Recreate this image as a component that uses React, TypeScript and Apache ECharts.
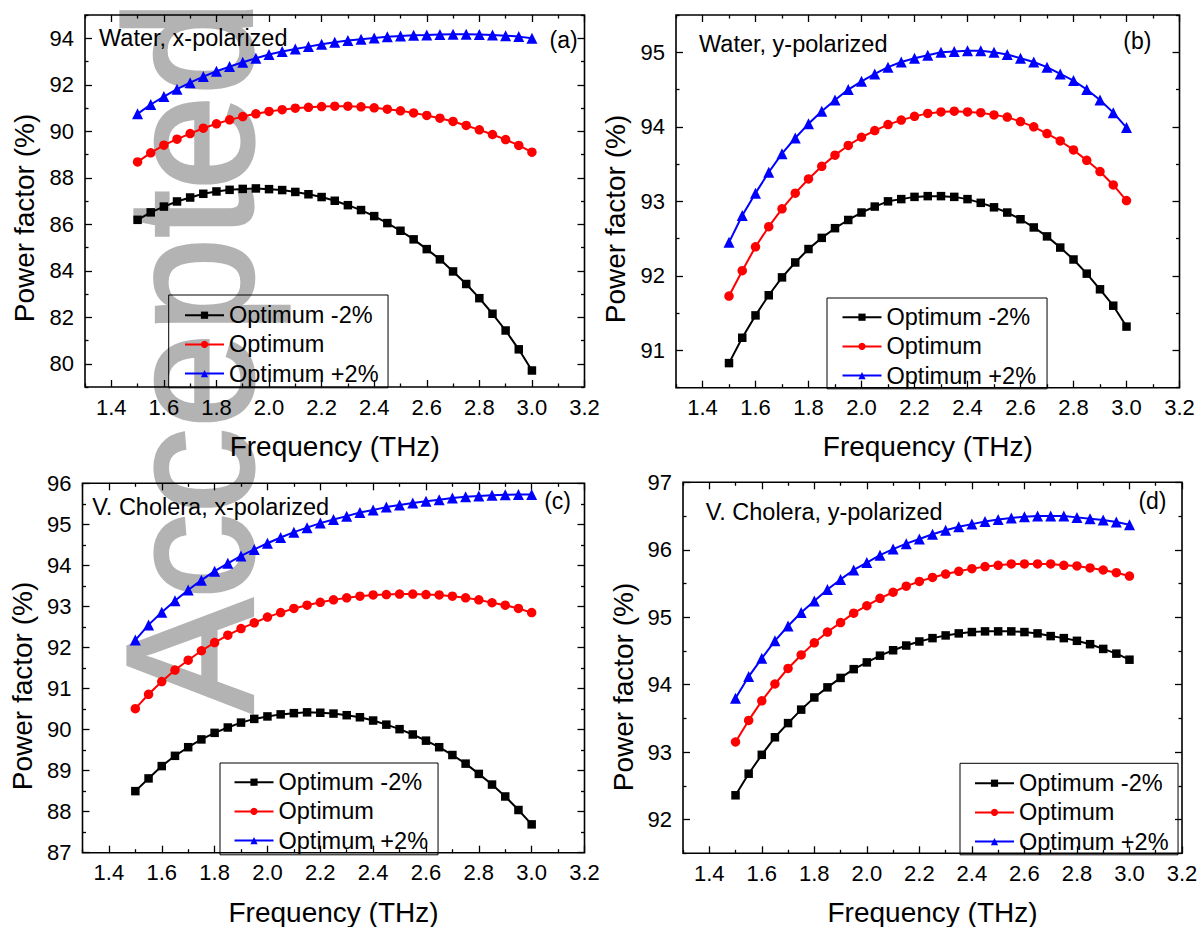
import React, { useEffect, useRef } from 'react';
import * as echarts from 'echarts';

const FONT = '"Liberation Sans", Arial, Helvetica, sans-serif';

// Frequency (THz)
const freq = [1.5, 1.55, 1.6, 1.65, 1.7, 1.75, 1.8, 1.85, 1.9, 1.95, 2.0, 2.05, 2.1, 2.15, 2.2, 2.25, 2.3, 2.35, 2.4, 2.45, 2.5, 2.55, 2.6, 2.65, 2.7, 2.75, 2.8, 2.85, 2.9, 2.95, 3.0];

const seriesNames = ['Optimum -2%', 'Optimum', 'Optimum +2%'];

// (a) Water, x-polarized
const waterXMinus = [86.19, 86.51, 86.76, 86.98, 87.15, 87.31, 87.41, 87.48, 87.52, 87.54, 87.51, 87.47, 87.39, 87.29, 87.17, 87.01, 86.82, 86.61, 86.35, 86.05, 85.72, 85.35, 84.93, 84.49, 83.97, 83.43, 82.82, 82.15, 81.43, 80.62, 79.71];
const waterXOpt = [88.68, 89.07, 89.40, 89.66, 89.90, 90.13, 90.32, 90.49, 90.63, 90.75, 90.85, 90.93, 90.99, 91.03, 91.06, 91.08, 91.08, 91.05, 91.01, 90.95, 90.88, 90.79, 90.68, 90.56, 90.42, 90.25, 90.06, 89.86, 89.64, 89.39, 89.10];
const waterXPlus = [90.75, 91.15, 91.49, 91.81, 92.09, 92.35, 92.58, 92.78, 92.97, 93.14, 93.30, 93.43, 93.54, 93.64, 93.74, 93.83, 93.90, 93.96, 94.01, 94.06, 94.10, 94.13, 94.14, 94.16, 94.17, 94.17, 94.16, 94.14, 94.11, 94.07, 94.00];

// (b) Water, y-polarized
const waterYMinus = [90.83, 91.17, 91.47, 91.74, 91.98, 92.18, 92.36, 92.51, 92.64, 92.75, 92.85, 92.93, 93.00, 93.03, 93.06, 93.07, 93.07, 93.06, 93.03, 92.98, 92.92, 92.85, 92.76, 92.65, 92.53, 92.38, 92.22, 92.03, 91.82, 91.60, 91.32];
const waterYOpt = [91.73, 92.07, 92.39, 92.66, 92.90, 93.11, 93.30, 93.47, 93.62, 93.75, 93.86, 93.95, 94.03, 94.09, 94.14, 94.18, 94.20, 94.21, 94.20, 94.19, 94.16, 94.13, 94.07, 94.00, 93.91, 93.81, 93.69, 93.55, 93.40, 93.22, 93.01];
const waterYPlus = [92.45, 92.81, 93.11, 93.39, 93.64, 93.85, 94.04, 94.21, 94.36, 94.50, 94.61, 94.71, 94.80, 94.87, 94.92, 94.96, 95.00, 95.01, 95.02, 95.02, 95.00, 94.97, 94.92, 94.87, 94.80, 94.71, 94.62, 94.50, 94.36, 94.19, 93.99];

// (c) V. Cholera, x-polarized
const cholXMinus = [88.50, 88.81, 89.11, 89.36, 89.57, 89.76, 89.92, 90.05, 90.17, 90.26, 90.32, 90.37, 90.40, 90.42, 90.41, 90.39, 90.35, 90.30, 90.22, 90.12, 90.01, 89.88, 89.73, 89.57, 89.38, 89.17, 88.92, 88.66, 88.37, 88.04, 87.69];
const cholXOpt = [90.51, 90.86, 91.17, 91.45, 91.69, 91.92, 92.12, 92.30, 92.46, 92.60, 92.74, 92.85, 92.95, 93.03, 93.10, 93.16, 93.21, 93.25, 93.28, 93.29, 93.30, 93.30, 93.29, 93.28, 93.25, 93.21, 93.16, 93.09, 93.03, 92.95, 92.85];
const cholXPlus = [92.18, 92.55, 92.86, 93.14, 93.40, 93.64, 93.86, 94.05, 94.23, 94.39, 94.54, 94.68, 94.81, 94.92, 95.03, 95.12, 95.20, 95.29, 95.35, 95.42, 95.47, 95.52, 95.56, 95.60, 95.64, 95.67, 95.69, 95.71, 95.72, 95.73, 95.73];

// (d) V. Cholera, y-polarized
const cholYMinus = [92.36, 92.68, 92.96, 93.22, 93.43, 93.63, 93.81, 93.96, 94.10, 94.23, 94.33, 94.43, 94.51, 94.58, 94.64, 94.69, 94.73, 94.76, 94.78, 94.79, 94.79, 94.79, 94.78, 94.76, 94.72, 94.69, 94.65, 94.60, 94.53, 94.46, 94.37];
const cholYOpt = [93.15, 93.47, 93.76, 94.01, 94.24, 94.44, 94.62, 94.78, 94.92, 95.06, 95.17, 95.28, 95.37, 95.46, 95.53, 95.59, 95.64, 95.68, 95.72, 95.75, 95.77, 95.79, 95.79, 95.79, 95.79, 95.77, 95.76, 95.73, 95.70, 95.66, 95.61];
const cholYPlus = [93.80, 94.12, 94.39, 94.65, 94.87, 95.07, 95.24, 95.41, 95.56, 95.70, 95.81, 95.92, 96.01, 96.09, 96.16, 96.23, 96.29, 96.34, 96.38, 96.42, 96.45, 96.47, 96.49, 96.50, 96.50, 96.50, 96.48, 96.46, 96.44, 96.41, 96.37];

// Tick values
const xMajor = [1.4, 1.6, 1.8, 2.0, 2.2, 2.4, 2.6, 2.8, 3.0, 3.2];
const xMinor = [1.3, 1.5, 1.7, 1.9, 2.1, 2.3, 2.5, 2.7, 2.9, 3.1];
const yMajorA = [80, 82, 84, 86, 88, 90, 92, 94];
const yMinorA = [79, 81, 83, 85, 87, 89, 91, 93, 95];
const yMajorB = [91, 92, 93, 94, 95];
const yMinorB = [90.5, 91.5, 92.5, 93.5, 94.5, 95.5];
const yMajorC = [87, 88, 89, 90, 91, 92, 93, 94, 95, 96];
const yMinorC = [87.5, 88.5, 89.5, 90.5, 91.5, 92.5, 93.5, 94.5, 95.5];
const yMajorD = [92, 93, 94, 95, 96, 97];
const yMinorD = [91.5, 92.5, 93.5, 94.5, 95.5, 96.5];

const panelTitles = ['Water, x-polarized', 'Water, y-polarized', 'V. Cholera, x-polarized', 'V. Cholera, y-polarized'];
const panelTags = ['(a)', '(b)', '(c)', '(d)'];

const colors = ['#000000', '#ff0000', '#0000ff'];
const symbols = ['rect', 'circle', 'triangle'];
const symbolSizes = [8.5, 9.5, 11];

const panels = [
  {
    grid: { left: 85, top: 15, width: 499.5, height: 372 },
    yMin: 79, yMax: 95, yMajor: yMajorA, yMinor: yMinorA,
    data: [waterXMinus, waterXOpt, waterXPlus],
    legend: { left: 168.7, top: 295, padding: [8.2, 9.5, 2.2, 15.3] },
    title: { x: 99, y: 37.6 }, tag: { x: 549.5, y: 39.6 },
    xTitle: { x: 334.7, y: 446 }, yTitle: { x: 24.4, y: 218 },
  },
  {
    grid: { left: 676, top: 15, width: 503.5, height: 372.7 },
    yMin: 90.5, yMax: 95.5, yMajor: yMajorB, yMinor: yMinorB,
    data: [waterYMinus, waterYOpt, waterYPlus],
    legend: { left: 827, top: 298, padding: [7.2, 11, 1.2, 14.5] },
    title: { x: 699, y: 44 }, tag: { x: 1123.3, y: 41 },
    xTitle: { x: 927.8, y: 446 }, yTitle: { x: 615.6, y: 219 },
  },
  {
    grid: { left: 82.5, top: 483.3, width: 502, height: 369.4 },
    yMin: 87, yMax: 96, yMajor: yMajorC, yMinor: yMinorC,
    data: [cholXMinus, cholXOpt, cholXPlus],
    legend: { left: 220, top: 763, padding: [7.2, 10, 2.2, 13.5] },
    title: { x: 92.3, y: 506.6 }, tag: { x: 544.2, y: 501 },
    xTitle: { x: 333.5, y: 912 }, yTitle: { x: 22.6, y: 686 },
  },
  {
    grid: { left: 683, top: 482.3, width: 499, height: 371 },
    yMin: 91.5, yMax: 97, yMajor: yMajorD, yMinor: yMinorD,
    data: [cholYMinus, cholYOpt, cholYPlus],
    legend: { left: 960, top: 763.3, padding: [7.9, 9.5, 1.2, 14] },
    title: { x: 705.7, y: 511.6 }, tag: { x: 1138.4, y: 501 },
    xTitle: { x: 932.5, y: 912 }, yTitle: { x: 623.5, y: 687 },
  },
];

const tickLine = { color: '#000', width: 1.3 };
const labelStyle = { fontSize: 22, color: '#000', fontFamily: FONT };

function xAxisDef(p: number, position: string, ticks: number[], len: number, labels: boolean) {
  return {
    type: 'value', gridIndex: p, position, min: 1.3, max: 3.2,
    axisLine: { show: false }, splitLine: { show: false },
    axisTick: { show: true, inside: true, length: len, customValues: ticks, lineStyle: tickLine },
    axisLabel: labels
      ? { show: true, customValues: ticks, formatter: (v: number) => v.toFixed(1), margin: 9, ...labelStyle }
      : { show: false },
  };
}

function yAxisDef(p: number, position: string, min: number, max: number, ticks: number[], len: number, labels: boolean) {
  return {
    type: 'value', gridIndex: p, position, min, max,
    axisLine: { show: false }, splitLine: { show: false },
    axisTick: { show: true, inside: true, length: len, customValues: ticks, lineStyle: tickLine },
    axisLabel: labels
      ? { show: true, customValues: ticks, formatter: (v: number) => String(Math.round(v)), margin: 11, ...labelStyle }
      : { show: false },
  };
}

function buildOption() {
  const grids: any[] = [];
  const xAxes: any[] = [];
  const yAxes: any[] = [];
  const series: any[] = [];
  const legends: any[] = [];
  const graphics: any[] = [];

  // Watermark (drawn behind the data)
  graphics.push({
    type: 'text', x: 190, y: 713, rotation: Math.PI / 2, scaleY: 1.05, z: -1, silent: true,
    style: {
      text: 'Accepted', fontSize: 171, fontFamily: FONT, fill: '#b3b3b3',
      stroke: '#b3b3b3', lineWidth: 3, align: 'left', verticalAlign: 'middle',
    },
  });

  panels.forEach((pn, p) => {
    grids.push({ ...pn.grid, show: true, borderColor: '#000', borderWidth: 1.6, backgroundColor: 'transparent', containLabel: false, outerBoundsMode: 'none' });
    const xi = xAxes.length;
    xAxes.push(xAxisDef(p, 'bottom', xMajor, 7, true));
    xAxes.push(xAxisDef(p, 'bottom', xMinor, 3.5, false));
    xAxes.push(xAxisDef(p, 'top', xMajor, 7, false));
    xAxes.push(xAxisDef(p, 'top', xMinor, 3.5, false));
    const yi = yAxes.length;
    yAxes.push(yAxisDef(p, 'left', pn.yMin, pn.yMax, pn.yMajor, 7, true));
    yAxes.push(yAxisDef(p, 'left', pn.yMin, pn.yMax, pn.yMinor, 3.5, false));
    yAxes.push(yAxisDef(p, 'right', pn.yMin, pn.yMax, pn.yMajor, 7, false));
    yAxes.push(yAxisDef(p, 'right', pn.yMin, pn.yMax, pn.yMinor, 3.5, false));

    pn.data.forEach((vals, k) => {
      series.push({
        name: seriesNames[k], type: 'line', xAxisIndex: xi, yAxisIndex: yi,
        data: freq.map((f, i) => [f, vals[i]]),
        symbol: symbols[k], symbolSize: symbolSizes[k], showSymbol: true, showAllSymbol: true,
        lineStyle: { color: colors[k], width: 2 },
        itemStyle: { color: colors[k], borderWidth: 0 },
        emphasis: { disabled: true },
        z: 3 + k,
      });
    });

    legends.push({
      orient: 'vertical', left: pn.legend.left, top: pn.legend.top, padding: pn.legend.padding,
      itemWidth: 39, itemHeight: 9, itemGap: 5.2,
      borderColor: '#000', borderWidth: 1, backgroundColor: 'transparent',
      textStyle: { fontSize: 23.5, color: '#000', fontFamily: FONT },
      selectedMode: false,
      data: seriesNames,
    });

    graphics.push({
      type: 'text', x: pn.title.x, y: pn.title.y, z: 10,
      style: { text: panelTitles[p], fontSize: 23.5, fontFamily: FONT, fill: '#000', align: 'left', verticalAlign: 'middle' },
    });
    graphics.push({
      type: 'text', x: pn.tag.x, y: pn.tag.y, z: 10,
      style: { text: panelTags[p], fontSize: 23, fontFamily: FONT, fill: '#000', align: 'left', verticalAlign: 'middle' },
    });
    graphics.push({
      type: 'text', x: pn.xTitle.x, y: pn.xTitle.y, z: 10,
      style: { text: 'Frequency (THz)', fontSize: 28, fontFamily: FONT, fill: '#000', align: 'center', verticalAlign: 'middle' },
    });
    graphics.push({
      type: 'text', x: pn.yTitle.x, y: pn.yTitle.y, rotation: Math.PI / 2, z: 10,
      style: { text: 'Power factor (%)', fontSize: 28, fontFamily: FONT, fill: '#000', align: 'center', verticalAlign: 'middle' },
    });
  });

  return {
    animation: false,
    backgroundColor: '#ffffff',
    textStyle: { fontFamily: FONT },
    grid: grids,
    xAxis: xAxes,
    yAxis: yAxes,
    legend: legends,
    series,
    graphic: graphics,
  };
}

export default function App() {
  const ref = useRef<HTMLDivElement>(null);
  useEffect(() => {
    const chart = echarts.init(ref.current!, null, { renderer: 'svg' });
    chart.setOption(buildOption() as any);
    return () => chart.dispose();
  }, []);
  return (
    <div
      ref={ref}
      style={{ position: 'absolute', left: 0, top: 0, width: 1198, height: 927, background: '#fff' }}
    />
  );
}
